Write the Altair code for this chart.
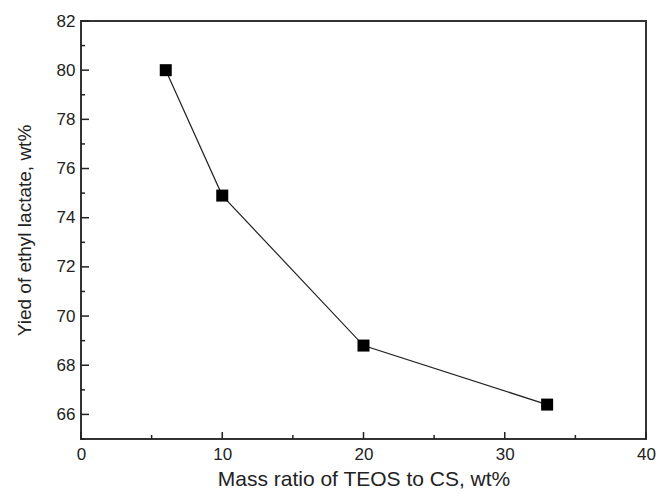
import altair as alt
import pandas as pd

mass_ratio = [6, 10, 20, 33]
yield_pct = [80.0, 74.9, 68.8, 66.4]

x_major = [0, 10, 20, 30, 40]
x_minor = [5, 15, 25, 35]
y_major = [66, 68, 70, 72, 74, 76, 78, 80, 82]
y_minor = [65, 67, 69, 71, 73, 75, 77, 79, 81]

W, H = 565, 418
FONT = "Liberation Sans"

df = pd.DataFrame({"x": mass_ratio, "y": yield_pct})
xs = alt.Scale(domain=[0, 40], nice=False)
ys = alt.Scale(domain=[65, 82], nice=False)

base = alt.Chart(df)
line = base.mark_line(color="#222222", strokeWidth=1.2).encode(
    x=alt.X("x:Q", scale=xs,
            axis=alt.Axis(values=x_major, ticks=False, domain=False, grid=False,
                          labelFlush=False, labelOverlap=False,
                          labelFontSize=17, labelColor="#222", labelFont=FONT,
                          labelPadding=7, title="Mass ratio of TEOS to CS, wt%",
                          titleFontSize=21, titleFont=FONT, titleFontWeight="normal",
                          titleColor="#222", titlePadding=6)),
    y=alt.Y("y:Q", scale=ys,
            axis=alt.Axis(values=y_major, ticks=False, domain=False, grid=False,
                          labelFlush=False, labelOverlap=False,
                          labelFontSize=17, labelColor="#222", labelFont=FONT,
                          labelPadding=6, title="Yied of ethyl lactate, wt%",
                          titleFontSize=19, titleFont=FONT, titleFontWeight="normal",
                          titleColor="#222", titlePadding=22)),
)
pts = base.mark_point(shape="square", filled=True, color="black", size=144, opacity=1).encode(
    x=alt.X("x:Q", scale=xs), y=alt.Y("y:Q", scale=ys)
)

xmaj = alt.Chart(pd.DataFrame({"v": x_major})).mark_rule(color="#222", strokeWidth=1.5).encode(
    x=alt.X("v:Q", scale=xs), y=alt.value(H), y2=alt.value(H - 7))
xmin = alt.Chart(pd.DataFrame({"v": x_minor})).mark_rule(color="#222", strokeWidth=1.5).encode(
    x=alt.X("v:Q", scale=xs), y=alt.value(H), y2=alt.value(H - 4))
ymaj = alt.Chart(pd.DataFrame({"v": y_major})).mark_rule(color="#222", strokeWidth=1.5).encode(
    y=alt.Y("v:Q", scale=ys), x=alt.value(0), x2=alt.value(8))
ymin = alt.Chart(pd.DataFrame({"v": y_minor})).mark_rule(color="#222", strokeWidth=1.5).encode(
    y=alt.Y("v:Q", scale=ys), x=alt.value(0), x2=alt.value(4))

chart = alt.layer(line, pts, xmaj, xmin, ymaj, ymin).properties(
    width=W, height=H,
    background="white",
    autosize=alt.AutoSizeParams(type="none"),
    padding={"left": 81, "top": 21, "right": 13, "bottom": 57},
).configure_view(stroke="#333333", strokeWidth=2)

chart.save("out.html", embed_options={"renderer": "svg", "actions": False})
